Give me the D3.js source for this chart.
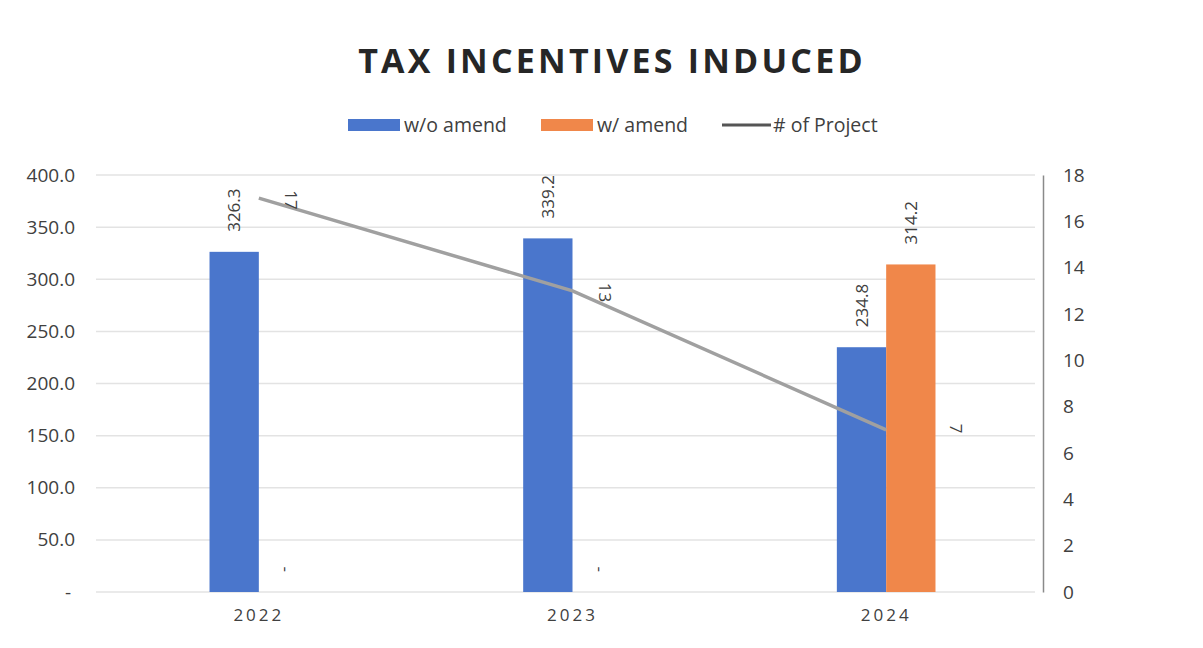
<!DOCTYPE html>
<html><head><meta charset="utf-8">
<script src="https://cdn.jsdelivr.net/npm/d3@7"></script>
<style>body{margin:0;background:#fff;} svg{display:block;font-family:"Open Sans",sans-serif;}</style>
</head><body><svg id="c" width="1203" height="648"></svg>
<script>
const categories = ["2022","2023","2024"];
const woAmend = [326.3, 339.2, 234.8];
const wAmend = [0, 0, 314.2];
const projects = [17, 13, 7];
const leftTicks = [0,50,100,150,200,250,300,350,400];
const rightTicks = [0,2,4,6,8,10,12,14,16,18];

const svg = d3.select("#c");
const W = 1203, H = 648;
const m = {l:102, r:160, t:175, b:56};
const x0 = d3.scaleBand().domain(categories).range([m.l, W - m.r]);
const x1 = d3.scaleBand().domain(["wo","w"]).range([0, x0.bandwidth()]).paddingInner(0).paddingOuter(2.18);
const yL = d3.scaleLinear().domain([0,400]).range([H - m.b, m.t]);
const yR = d3.scaleLinear().domain([0,18]).range([H - m.b, m.t]);
const blue = "#4a76cc", orange = "#f0874a", grey = "#a0a0a0";

svg.append("text").attr("x", 612).attr("y", 73).attr("text-anchor","middle")
  .attr("font-size", 34).attr("font-weight", 700).attr("letter-spacing", 3.2).attr("fill","#262626")
  .text("TAX INCENTIVES INDUCED");

// gridlines
svg.append("g").selectAll("line").data(leftTicks).join("line")
  .attr("x1", m.l - 6).attr("x2", W - m.r - 8).attr("y1", d => yL(d)).attr("y2", d => yL(d))
  .attr("stroke", "#e3e3e3").attr("stroke-width", 1.5);

// left axis
const gL = svg.append("g").attr("transform", `translate(${m.l},0)`)
  .call(d3.axisLeft(yL).tickValues(leftTicks).tickSize(0).tickPadding(27)
    .tickFormat(d => d === 0 ? "-" : d3.format(".1f")(d)));
gL.select(".domain").remove();
gL.selectAll("text").attr("font-size", 19).attr("fill", "#404040").attr("font-family","Open Sans, sans-serif").attr("dx", d => d===0 ? -4 : 0);

// right axis
const gR = svg.append("g").attr("transform", `translate(${W - m.r},0)`)
  .call(d3.axisRight(yR).tickValues(rightTicks).tickSize(0).tickPadding(20));
gR.select(".domain").attr("stroke", "#8a8a8a").attr("stroke-width", 1.5);
gR.selectAll("text").attr("font-size", 19).attr("fill", "#404040").attr("font-family","Open Sans, sans-serif");

// x axis labels
const gX = svg.append("g").attr("transform", `translate(0,${H - m.b})`)
  .call(d3.axisBottom(x0).tickSize(0).tickPadding(17));
gX.select(".domain").remove();
gX.selectAll("text").attr("font-size", 17).attr("letter-spacing", 3).attr("fill", "#404040").attr("font-family","Open Sans, sans-serif");

// bars
const groups = svg.append("g").selectAll("g").data(categories).join("g")
  .attr("transform", d => `translate(${x0(d)},0)`);
const barData = (d,i) => [{k:"wo", v:woAmend[i], c:blue},{k:"w", v:wAmend[i], c:orange}];
groups.each(function(d,i){
  const g = d3.select(this);
  const bd = barData(d,i);
  g.selectAll("rect").data(bd).join("rect")
    .attr("x", b => x1(b.k)).attr("width", x1.bandwidth())
    .attr("y", b => yL(b.v)).attr("height", b => yL(0) - yL(b.v)).attr("fill", b => b.c);
  g.selectAll("text").data(bd).join("text")
    .attr("transform", b => `translate(${x1(b.k) + x1.bandwidth()/2 + 6},${yL(b.v) - 20}) rotate(-90)`)
    .attr("text-anchor","start").attr("font-size", 17).attr("fill", "#404040")
    .text(b => b.v === 0 ? "-" : d3.format(".1f")(b.v));
});

// line
const cx = d => x0(d) + x0.bandwidth()/2;
svg.append("path").datum(categories)
  .attr("d", d3.line().x(d => cx(d)).y((d,i) => yR(projects[i])))
  .attr("fill","none").attr("stroke", grey).attr("stroke-width", 3.5);
svg.append("g").selectAll("text").data(categories).join("text")
  .attr("transform", (d,i) => `translate(${cx(d) + (i===2 ? 64 : 26)},${yR(projects[i]) - (i===2?6:8)}) rotate(90)`)
  .attr("text-anchor","start").attr("font-size", 17).attr("fill", "#404040")
  .text((d,i) => projects[i]);

// legend
const lg = svg.append("g").attr("font-size", 19.5).attr("fill", "#404040");
const items = [{t:"w/o amend", c:blue, type:"rect", x:348},{t:"w/ amend", c:orange, type:"rect", x:541},{t:"# of Project", c:"#555", type:"line", x:722}];
items.forEach(it => {
  if (it.type === "rect") lg.append("rect").attr("x", it.x).attr("y", 119).attr("width", 52).attr("height", 12).attr("fill", it.c);
  else lg.append("line").attr("x1", it.x).attr("x2", it.x + 49).attr("y1", 125).attr("y2", 125).attr("stroke", it.c).attr("stroke-width", 3);
  lg.append("text").attr("x", it.type === "rect" ? it.x + 56 : it.x + 51).attr("y", 132).text(it.t);
});
</script></body></html>
